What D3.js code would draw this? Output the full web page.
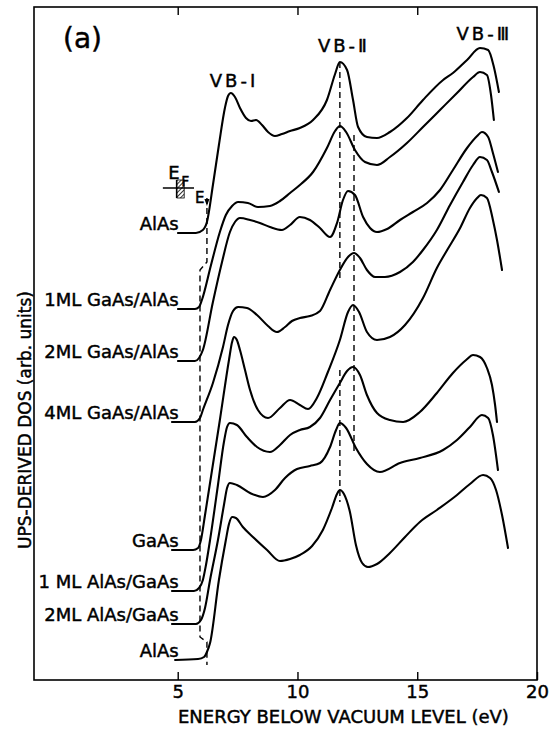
<!DOCTYPE html>
<html>
<head>
<meta charset="utf-8">
<script src="https://cdn.jsdelivr.net/npm/d3@7"></script>
<style>
body { margin: 0; background: #fff; }
svg text { font-family: "DejaVu Sans", sans-serif; fill: #000; stroke: #000; stroke-width: 0.45px; }
</style>
</head>
<body>
<svg id="view" width="558" height="730"></svg>
<script>
// DATA (energy in eV, DOS in arb. units, already offset per spectrum)
var LABELS = ["AlAs", "1ML GaAs/AlAs", "2ML GaAs/AlAs", "4ML GaAs/AlAs",
              "GaAs", "1 ML AlAs/GaAs", "2ML AlAs/GaAs", "AlAs"];

var E1 = [5.01,5.76,6.05,6.22,6.47,6.72,6.97,7.10,7.22,7.39,7.60,7.85,8.06,8.27,8.52,8.77,9.06,9.35,9.69,10.10,10.65,11.23,11.57,11.77,12.07,12.32,12.53,12.90,13.32,13.86,14.57,15.24,16.08,16.49,17.08,17.62,17.96,18.20,18.41];
var D1 = [44.7,44.7,45.0,45.8,49.5,53.5,57.2,58.4,58.7,58.3,57.2,56.2,55.9,56.0,55.5,54.8,54.4,54.6,54.9,55.2,56.0,58.0,60.6,61.8,61.0,58.0,55.3,54.3,54.2,54.8,56.2,58.0,60.0,60.7,62.0,63.2,63.0,61.3,58.8];

var E2 = [5.01,5.72,5.89,6.01,6.39,6.76,7.01,7.27,7.52,7.93,8.35,8.85,9.27,9.69,10.10,10.65,11.23,11.57,11.77,12.03,12.40,12.82,13.32,13.86,14.57,15.24,15.95,16.66,17.33,17.62,17.91,18.08,18.20];
var D2 = [37.1,37.1,37.3,38.0,41.5,44.8,46.5,47.4,47.8,47.7,47.3,47.4,47.9,48.7,49.5,50.8,53.2,54.9,55.4,54.8,53.0,51.8,51.5,52.3,53.7,55.3,57.0,58.7,60.3,60.8,60.5,58.5,56.0];

var E3 = [5.01,5.72,5.89,6.05,6.47,6.85,7.18,7.39,7.60,8.02,8.43,8.85,9.35,9.69,10.10,10.52,10.94,11.36,11.65,11.90,12.11,12.40,12.74,13.03,13.32,13.74,14.28,14.82,15.41,15.95,16.49,17.08,17.50,17.70,17.96,18.16,18.37];
var D3 = [31.9,31.9,32.2,33.0,37.8,41.8,44.8,45.8,46.2,46.0,45.7,45.3,45.0,45.5,46.3,46.0,45.2,44.3,45.7,48.0,48.9,48.5,46.3,45.2,44.8,45.1,46.0,46.8,47.7,49.0,51.0,53.2,54.4,54.8,54.3,52.7,50.8];

var E4 = [4.76,5.72,5.93,6.05,6.47,6.89,7.10,7.31,7.52,7.89,8.31,8.77,9.14,9.48,9.77,10.10,10.52,10.94,11.36,11.77,12.11,12.36,12.61,12.90,13.24,13.65,14.28,14.82,15.24,15.82,16.37,16.91,17.33,17.62,17.91,18.12,18.41];
var D4 = [25.8,25.8,26.2,27.0,29.7,33.3,35.5,36.9,37.3,37.2,36.5,35.4,34.8,35.3,35.9,36.2,36.4,36.9,39.0,41.0,42.3,42.7,42.2,41.0,40.3,40.3,40.8,41.8,43.0,45.0,47.5,49.8,51.5,52.3,52.0,50.8,48.8];

var E5 = [4.76,5.64,5.85,5.97,6.14,6.76,7.14,7.27,7.35,7.47,7.60,7.81,8.02,8.35,8.77,9.27,9.69,10.10,10.44,10.81,11.27,11.77,12.11,12.32,12.57,12.90,13.32,13.86,14.49,15.24,15.82,16.25,16.79,17.20,17.50,17.66,17.91,18.16,18.33,18.54];
var D5 = [13.0,13.0,13.2,14.0,16.5,26.0,32.0,33.8,34.3,34.0,33.0,31.0,29.0,27.0,26.2,27.2,28.0,27.5,27.1,28.2,30.8,34.0,36.8,37.5,36.8,34.8,34.0,34.3,35.5,38.2,41.2,43.0,45.2,47.2,48.2,48.5,48.2,46.0,44.0,41.0];

var E6 = [4.76,5.68,5.89,6.05,6.18,6.35,6.68,6.93,7.06,7.18,7.47,7.89,8.31,8.85,9.27,9.69,10.10,10.52,10.94,11.36,11.77,12.07,12.32,12.61,12.90,13.32,13.86,14.41,15.11,15.82,16.49,17.04,17.33,17.62,17.91,18.12,18.25,18.33];
var D6 = [8.9,8.9,9.2,10.0,11.5,14.0,19.5,23.8,25.3,25.7,25.5,24.3,23.3,22.8,23.5,24.5,25.0,25.3,26.2,28.0,29.7,30.9,31.3,30.5,28.5,26.7,26.0,25.8,26.8,28.7,30.7,32.0,32.5,32.3,31.2,29.5,27.5,25.8];

var E7 = [4.76,5.76,5.97,6.14,6.35,6.68,6.93,7.06,7.18,7.47,8.02,8.56,9.06,9.48,9.98,10.52,10.94,11.36,11.61,11.77,12.03,12.44,12.90,13.44,14.28,15.11,16.08,16.66,17.20,17.70,17.96,18.16,18.37];
var D7 = [5.6,5.6,6.0,7.2,10.0,14.0,17.5,19.2,19.7,19.5,18.7,18.3,19.0,20.2,21.1,21.4,21.7,23.3,25.0,25.7,25.2,23.2,21.6,20.8,21.7,22.2,23.0,24.0,25.3,26.5,26.2,24.5,21.0];

var E8 = [4.89,5.85,6.10,6.22,6.35,6.72,7.01,7.14,7.27,7.43,7.72,8.14,8.73,9.27,9.69,10.10,10.61,11.06,11.44,11.65,11.77,11.94,12.19,12.44,12.70,12.94,13.32,13.86,14.49,15.11,15.82,16.66,17.20,17.75,18.04,18.29,18.54,18.79];
var D8 = [2.0,2.1,2.3,2.8,3.7,10.0,14.0,15.6,16.3,16.2,15.3,14.3,13.0,11.9,12.1,12.5,13.4,15.0,17.2,18.6,19.0,18.6,16.8,13.5,11.7,11.3,11.6,12.7,14.3,15.8,17.0,18.5,19.6,20.5,20.2,19.0,16.5,13.2];

// vertical marker lines
var VB2_A = 11.77;
var VB2_A_SPANS = [[61.8, 39.8], [31.0, 17.8]];
var VB2_B = 12.36;
var VB2_B_SPANS = [[54.5, 22.8]];
var EDGE_E = [6.22, 6.22, 5.93, 5.93, 6.22, 6.22];
var EDGE_D = [48.2, 41.8, 41.0, 4.3, 3.8, 1.5];

var X_TICKS = [5, 10, 15, 20];
var TOP_TICKS = [5, 10, 15];

var BANDS = ["VB-\u2160", "VB-\u2161", "VB-\u2162"];
var BAND_E = [7.35, 11.94, 17.8];
var BAND_D = [59.3, 62.8, 64.0];


// CONSTANTS
var CURVE_SIZE = 2.1;
var DASH_SIZE = 1.4;
var FRAME_SIZE = 1.6;


function main() {
    var svg = d3.select("#view");
    var x = d3.scaleLinear().domain([-1, 20]).range([34, 537]);
    var y = d3.scaleLinear().domain([0, 67.3]).range([680, 7]);

    var spectra = [[E1, D1], [E2, D2], [E3, D3], [E4, D4],
                   [E5, D5], [E6, D6], [E7, D7], [E8, D8]];

    var line = d3.line()
        .x(function(d) { return x(d[0]); })
        .y(function(d) { return y(d[1]); })
        .curve(d3.curveMonotoneX)
        ;

    // frame
    svg.append("rect")
        .attr("x", x(-1))
        .attr("y", y(67.3))
        .attr("width", x(20) - x(-1))
        .attr("height", y(0) - y(67.3))
        .attr("fill", "none")
        .attr("stroke", "black")
        .attr("stroke-width", FRAME_SIZE)
        ;

    var bottom = svg.append("g")
        .attr("transform", "translate(0," + y(0) + ")")
        .call(d3.axisBottom(x).tickValues(X_TICKS).tickSizeInner(-8).tickSizeOuter(0).tickPadding(5))
        ;
    bottom.select(".domain").remove();
    bottom.selectAll("line").attr("stroke", "black").attr("stroke-width", 1.4);
    bottom.selectAll("text")
        .attr("font-size", 18)
        .attr("font-family", "DejaVu Sans")
        ;

    var top = svg.append("g")
        .attr("transform", "translate(0," + y(67.3) + ")")
        .call(d3.axisTop(x).tickValues(TOP_TICKS).tickSizeInner(-8).tickSizeOuter(0).tickFormat(""))
        ;
    top.select(".domain").remove();
    top.selectAll("line").attr("stroke", "black").attr("stroke-width", 1.4);

    // spectra
    var group = svg.append("g");
    for (var i = 0; i < spectra.length; i++) {
        var pts = d3.zip(spectra[i][0], spectra[i][1]);
        group.append("path")
            .attr("d", line(pts))
            .attr("fill", "none")
            .attr("stroke", "black")
            .attr("stroke-width", CURVE_SIZE)
            .attr("stroke-linejoin", "round")
            .attr("stroke-linecap", "round")
            ;
        svg.append("text")
            .attr("x", x(5.0) + 1)
            .attr("y", y(spectra[i][1][0]) - 3)
            .attr("text-anchor", "end")
            .attr("font-size", 18)
            .text(LABELS[i])
            ;
    }

    // dashed VB-II positions
    var dashed = svg.append("g")
        .attr("stroke", "black")
        .attr("stroke-width", DASH_SIZE)
        .attr("stroke-dasharray", "6,4")
        .attr("fill", "none")
        ;
    VB2_A_SPANS.forEach(function(s) {
        dashed.append("line")
            .attr("x1", x(VB2_A)).attr("x2", x(VB2_A))
            .attr("y1", y(s[0])).attr("y2", y(s[1]));
    });
    VB2_B_SPANS.forEach(function(s) {
        dashed.append("line")
            .attr("x1", x(VB2_B)).attr("x2", x(VB2_B))
            .attr("y1", y(s[0])).attr("y2", y(s[1]));
    });
    var edge = d3.line()
        .x(function(d) { return x(d[0]); })
        .y(function(d) { return y(d[1]); })
        ;
    dashed.append("path")
        .attr("d", edge(d3.zip(EDGE_E, EDGE_D)))
        ;

    // band labels
    for (var j = 0; j < BANDS.length; j++) {
        svg.append("text")
            .attr("x", x(BAND_E[j]))
            .attr("y", y(BAND_D[j]))
            .attr("text-anchor", "middle")
            .attr("font-size", 18)
            .attr("letter-spacing", 3)
            .text(BANDS[j])
            ;
    }

    // E_F marker
    var defs = svg.append("defs");
    var pat = defs.append("pattern")
        .attr("id", "hatch")
        .attr("width", 3)
        .attr("height", 3)
        .attr("patternUnits", "userSpaceOnUse")
        .attr("patternTransform", "rotate(45)")
        ;
    pat.append("line")
        .attr("x1", 0).attr("y1", 0).attr("x2", 0).attr("y2", 3)
        .attr("stroke", "black").attr("stroke-width", 1.6);
    var ef = svg.append("g");
    ef.append("rect")
        .attr("x", x(4.97))
        .attr("y", y(50.0))
        .attr("width", x(5.27) - x(4.97))
        .attr("height", y(48.2) - y(50.0))
        .attr("fill", "url(#hatch)")
        .attr("stroke", "black")
        .attr("stroke-width", 0.8)
        ;
    ef.append("line")
        .attr("x1", x(4.38)).attr("x2", x(5.68))
        .attr("y1", y(49.2)).attr("y2", y(49.2))
        .attr("stroke", "black").attr("stroke-width", 1.3);
    ef.append("line")
        .attr("x1", x(4.95)).attr("x2", x(4.95))
        .attr("y1", y(50.0)).attr("y2", y(48.2))
        .attr("stroke", "black").attr("stroke-width", 1.3);
    ef.append("text")
        .attr("x", x(4.6)).attr("y", y(50.1))
        .attr("font-size", 18).text("E");
    ef.append("text")
        .attr("x", x(5.15)).attr("y", y(49.4))
        .attr("font-size", 14).text("F");
    ef.append("text")
        .attr("x", x(5.72)).attr("y", y(47.7))
        .attr("font-size", 15).text("E");
    ef.append("path")
        .attr("d", "M" + (x(6.22) - 2.5) + "," + y(48.1) + "L" + (x(6.22) + 2.5) + "," + y(48.1) + "L" + x(6.22) + "," + y(47.4) + "Z")
        .attr("fill", "black");

    // titles
    svg.append("text")
        .attr("x", 63)
        .attr("y", 48)
        .attr("font-size", 28)
        .text("(a)")
        ;
    svg.append("text")
        .attr("x", 178)
        .attr("y", 723)
        .attr("font-size", 18)
        .text("ENERGY BELOW VACUUM LEVEL (eV)")
        ;
    svg.append("text")
        .attr("transform", "translate(31,420) rotate(-90)")
        .attr("text-anchor", "middle")
        .attr("font-size", 17)
        .text("UPS-DERIVED DOS (arb. units)")
        ;
}

main();
</script>
</body>
</html>
